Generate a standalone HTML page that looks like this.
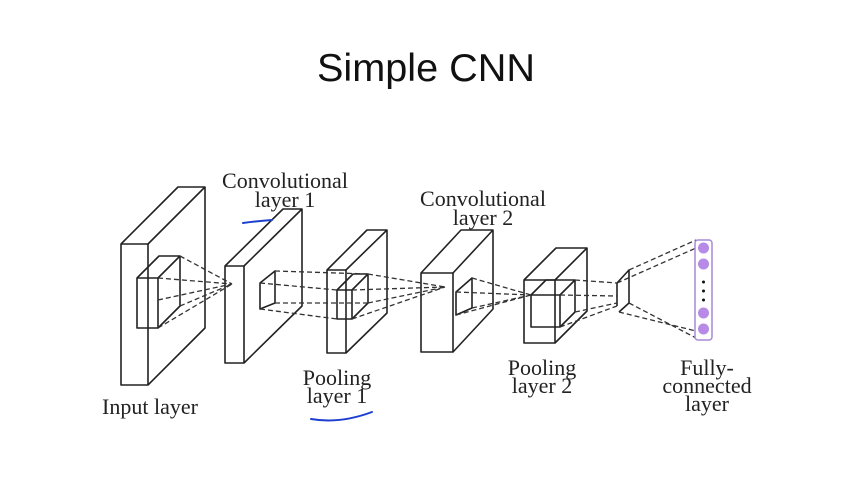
<!DOCTYPE html>
<html><head><meta charset="utf-8"><style>
html,body{margin:0;padding:0;background:#fff;}
svg{display:block;}
.t{font-family:"Liberation Serif",serif;font-size:22px;fill:#222;}
</style></head><body>
<svg width="861" height="483" viewBox="0 0 861 483" xmlns="http://www.w3.org/2000/svg">
<rect width="861" height="483" fill="#fff"/>
<text x="426" y="81" text-anchor="middle" font-family="Liberation Sans, sans-serif" font-size="39" textLength="218" lengthAdjust="spacingAndGlyphs" fill="#111">Simple CNN</text>
<g fill="none" stroke="#222" stroke-width="1.6" stroke-linejoin="round">
<!-- Input -->
<rect x="121" y="244" width="27" height="141"/>
<path d="M121 244 L178 187 L205 187 L148 244 M205 187 L205 328 L148 385"/>
<rect x="137" y="278" width="21" height="50"/>
<path d="M137 278 L159 256 L180 256 L158 278 M180 256 L180 306 L158 328"/>
<!-- Conv1 -->
<rect x="225" y="266" width="19" height="97"/>
<path d="M225 266 L283 209 L302 209 L244 266 M302 209 L302 306 L244 363"/>
<path d="M260 283 L275 271 L275 303 L260 309 Z"/>
<!-- Pool1 -->
<rect x="327" y="270" width="19" height="83"/>
<path d="M327 270 L367 230 L387 230 L346 270 M387 230 L387 313 L346 353"/>
<rect x="337" y="290" width="15" height="29"/>
<path d="M337 290 L353 274 L368 274 L352 290 M368 274 L368 303 L352 319"/>
<!-- Conv2 -->
<rect x="421" y="273" width="32" height="79"/>
<path d="M421 273 L461 230 L493 230 L453 273 M493 230 L493 309 L453 352"/>
<path d="M456 292 L472 278 L472 308 L456 315 Z"/>
<!-- Pool2 -->
<rect x="524" y="280" width="31" height="63"/>
<path d="M524 280 L556 248 L587 248 L555 280 M587 248 L587 311 L555 343"/>
<rect x="531" y="295" width="29" height="32"/>
<path d="M531 295 L546 280 L575 280 L560 295 M575 280 L575 312 L560 327"/>
<!-- small -->
<path d="M617 283 L617 306 M617 283 L629 270 L629 303 L619 312"/>
</g>
<g stroke="#333" stroke-width="1.3" stroke-dasharray="5,3" fill="none">
<path d="M180 256 L232 284 M158 278 L232 284 M180 306 L232 284 M158 328 L232 284 M158 300 L232 284"/>
<path d="M275 271 L368 274 M260 283 L337 290 M275 303 L368 303 M260 309 L337 319"/>
<path d="M368 274 L445 287 M352 290 L445 287 M368 303 L445 287 M352 319 L445 287"/>
<path d="M472 278 L531 295 M456 292 L531 295 M472 308 L531 295 M456 315 L531 295"/>
<path d="M575 280 L617 283 M560 295 L617 296 M575 312 L617 303 M560 327 L617 306"/>
<path d="M629 270 L696 240 M617 283 L696 248 M629 303 L696 338 M619 312 L696 331"/>
</g>
<rect x="695" y="240" width="17" height="100" rx="3" fill="#fff" stroke="#a78ad8" stroke-width="1.5"/>
<g fill="#b68ae6">
<circle cx="703.5" cy="248" r="5.5"/><circle cx="703.5" cy="264" r="5.5"/>
<circle cx="703.5" cy="313" r="5.5"/><circle cx="703.5" cy="329" r="5.5"/>
</g>
<g fill="#111"><circle cx="703.5" cy="282" r="1.5"/><circle cx="703.5" cy="291" r="1.5"/><circle cx="703.5" cy="300" r="1.5"/></g>
<text class="t" x="285" y="188" text-anchor="middle">Convolutional</text>
<text class="t" x="285" y="207" text-anchor="middle">layer 1</text>
<text class="t" x="483" y="206" text-anchor="middle">Convolutional</text>
<text class="t" x="483" y="225" text-anchor="middle">layer 2</text>
<text class="t" x="150" y="414" text-anchor="middle">Input layer</text>
<text class="t" x="337" y="385" text-anchor="middle">Pooling</text>
<text class="t" x="337" y="403" text-anchor="middle">layer 1</text>
<text class="t" x="542" y="375" text-anchor="middle">Pooling</text>
<text class="t" x="542" y="393" text-anchor="middle">layer 2</text>
<text class="t" x="707" y="375" text-anchor="middle">Fully-</text>
<text class="t" x="707" y="393" text-anchor="middle">connected</text>
<text class="t" x="707" y="411" text-anchor="middle">layer</text>
<g stroke="#1d3fd0" stroke-width="2" fill="none" stroke-linecap="round">
<path d="M243 223 Q258 221 272 220"/>
<path d="M311 419 Q340 424 372 412"/>
</g>
</svg>
</body></html>
